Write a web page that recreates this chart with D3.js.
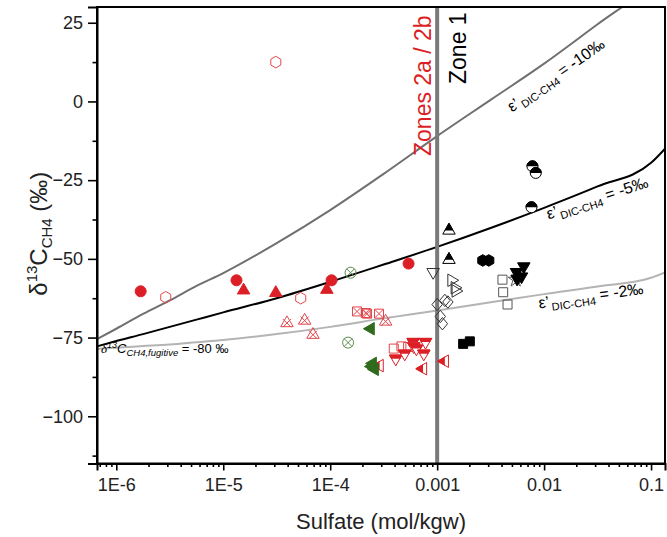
<!DOCTYPE html>
<html>
<head>
<meta charset="utf-8">
<script src="https://cdn.jsdelivr.net/npm/d3@7"></script>
<style>
  body { margin: 0; background: #fff; }
  svg { font-family: Arial, "Liberation Sans", sans-serif; }
</style>
</head>
<body>
<svg id="chart" width="667" height="537"></svg>
<script>
// ---- model curves (sulfate in mol/kgw, d13C-CH4 in permil) ----
const curveSulfate = [6.6e-7, 1e-6, 1.78e-6, 3.16e-6, 5.62e-6, 1e-5, 3.16e-5, 1e-4, 3.16e-4, 1e-3, 3.16e-3, 1e-2, 3.16e-2, 0.1, 0.135];
const eps10 = [-75.5, -72.2, -67.5, -63.2, -58.6, -54.5, -45, -34.5, -23, -11, 0.5, 12, 24.5, 37, 41];
const eps5 = [-77.8, -76.1, -73.9, -71.6, -69.3, -67, -62.5, -57.3, -51.8, -46.2, -40.2, -33.8, -27, -19.5, -15];
const eps2 = [-78.6, -78.2, -77.7, -77.2, -76.5, -75.8, -73.9, -71.6, -68.9, -66.4, -63.8, -61.2, -58.8, -56, -54.3];

// ---- samples, Zones 2a / 2b (red, green) ----
const redCircleSulfate = [1.69e-6, 1.33e-5, 1.03e-4, 5.4e-4];
const redCircleD13C = [-60.3, -56.8, -56.8, -51.5];
const redTriangleSulfate = [1.55e-5, 3.1e-5, 9.3e-5];
const redTriangleD13C = [-60.0, -60.8, -59.8];
const redHexSulfate = [2.9e-6, 5.3e-5, 3.1e-5];
const redHexD13C = [-62.2, -62.5, 12.5];
const redBoxXSulfate = [1.78e-4, 2.15e-4, 2.21e-4, 2.86e-4];
const redBoxXD13C = [-66.7, -67.2, -67.4, -67.4];
const redTriXSulfate = [3.94e-5, 5.77e-5, 6.9e-5, 3.3e-4];
const redTriXD13C = [-70.4, -69.6, -74.1, -69.9];
const redSquareSulfate = [3.93e-4, 4.63e-4, 5.35e-4];
const redSquareD13C = [-78.5, -77.8, -78.0];
const redDownSulfate = [4.1e-4, 4.98e-4, 5.96e-4, 6.05e-4, 6.4e-4, 7.5e-4, 7.78e-4];
const redDownD13C = [-81.7, -80.1, -76.4, -77.8, -78.5, -80.1, -76.4];
const redLeftSulfate = [2.9e-4, 7.38e-4, 1.18e-3];
const redLeftD13C = [-83.9, -84.9, -82.5];
const greenCircXSulfate = [1.55e-4, 1.47e-4];
const greenCircXD13C = [-54.4, -76.6];
const greenLeftSulfate = [2.39e-4, 2.5e-4, 2.61e-4, 2.44e-4];
const greenLeftD13C = [-72.2, -83.2, -85.1, -84.2];

// ---- samples, Zone 1 (black) ----
const blkHalfCircleSulfate = [7.78e-3, 8.36e-3, 7.62e-3];
const blkHalfCircleD13C = [-20.6, -22.7, -33.6];
const blkHalfTriSulfate = [1.29e-3, 1.29e-3];
const blkHalfTriD13C = [-41.0, -50.3];
const blkHexSulfate = [2.67e-3, 3.04e-3];
const blkHexD13C = [-50.5, -50.5];
const blkDownSulfate = [5.52e-3, 6.46e-3, 6.15e-3, 5.59e-3];
const blkDownD13C = [-54.2, -52.4, -55.6, -56.3];
const blkSquareSulfate = [1.75e-3, 2.02e-3];
const blkSquareD13C = [-77.0, -76.2];
const openDownSulfate = [9.17e-4];
const openDownD13C = [-54.2];
const openRightSulfate = [1.36e-3, 1.46e-3, 1.49e-3];
const openRightD13C = [-56.8, -59.2, -60.2];
const openDiamondSulfate = [1.0e-3, 1.18e-3, 1.26e-3, 1.07e-3, 1.12e-3];
const openDiamondD13C = [-64.5, -63.2, -63.7, -68.3, -70.6];
const openSquareSulfate = [4.08e-3, 4.14e-3, 4.55e-3];
const openSquareD13C = [-56.6, -60.6, -64.5];
const openStarSulfate = [5.43e-3];
const openStarD13C = [-56.6];

// ---- axis ticks ----
const xMajor = [1e-6, 1e-5, 1e-4, 1e-3, 1e-2, 1e-1];
const xTickLabels = ['1E-6', '1E-5', '1E-4', '0.001', '0.01', '0.1'];
const yMajor = [-100, -75, -50, -25, 0, 25];
const yMinor = [-112.5, -87.5, -62.5, -37.5, -12.5, 12.5];
const zoneBoundary = 0.001;

const RED = '#dc1f26', RED_OPEN = '#e2474b', GREEN = '#2f6b1c', BLACK = '#000';

const svg = d3.select('#chart');
const x = d3.scaleLog().domain([6.6e-7, 0.135]).range([97, 665]);
const y = d3.scaleLinear().domain([-115, 30]).range([463.5, 7]);

const defs = svg.append('defs');
defs.append('clipPath').attr('id', 'plot-clip').append('rect')
  .attr('x', 97).attr('y', 7).attr('width', 568).attr('height', 456.5);
defs.append('clipPath').attr('id', 'half-top').append('rect')
  .attr('x', -20).attr('y', -20).attr('width', 40).attr('height', 20);
defs.append('clipPath').attr('id', 'half-left').append('rect')
  .attr('x', -20).attr('y', -20).attr('width', 20).attr('height', 40);

// model curves
const plot = svg.append('g').attr('clip-path', 'url(#plot-clip)');
const line = d3.line().x(d => x(d[0])).y(d => y(d[1])).curve(d3.curveMonotoneX);
const curves = [
  {vals: eps2, color: '#b4b4b4'},
  {vals: eps10, color: '#707070'},
  {vals: eps5, color: '#000'}
];
curves.forEach(c => {
  plot.append('path')
    .datum(curveSulfate.map((s, i) => [s, c.vals[i]]))
    .attr('d', line)
    .attr('fill', 'none')
    .attr('stroke', c.color)
    .attr('stroke-width', 2);
});

// zone boundary
plot.append('line')
  .attr('x1', x(zoneBoundary)).attr('x2', x(zoneBoundary))
  .attr('y1', y(30)).attr('y2', y(-115))
  .attr('stroke', '#7a7a7a').attr('stroke-width', 4);

// marker shapes
function poly(pts) { return 'M' + pts.map(p => p[0].toFixed(2) + ',' + p[1].toFixed(2)).join('L') + 'Z'; }
function tri(r, ang) {
  const pts = [];
  for (let k = 0; k < 3; k++) {
    const a = (ang + k * 120) * Math.PI / 180;
    pts.push([r * Math.cos(a), r * Math.sin(a)]);
  }
  return poly(pts);
}
function shapePath(shape) {
  switch (shape) {
    case 'circle': return d3.symbol(d3.symbolCircle, Math.PI * 5.5 * 5.5)();
    case 'up': return tri(7.2, -90);
    case 'down': return tri(7.2, 90);
    case 'left': return tri(7.2, 180);
    case 'right': return tri(7.2, 0);
    case 'square': return poly([[-4.5, -4.5], [4.5, -4.5], [4.5, 4.5], [-4.5, 4.5]]);
    case 'diamond': return poly([[0, -6.2], [5.2, 0], [0, 6.2], [-5.2, 0]]);
    case 'hex': {
      const pts = [];
      for (let k = 0; k < 6; k++) {
        const a = (-90 + k * 60) * Math.PI / 180;
        pts.push([5.8 * Math.cos(a), 5.8 * Math.sin(a)]);
      }
      return poly(pts);
    }
    case 'star': return d3.symbol(d3.symbolStar, 70)();
  }
}

const series = [
  {sx: redHexSulfate, sy: redHexD13C, shape: 'hex', color: RED_OPEN, fill: 'open'},
  {sx: redCircleSulfate, sy: redCircleD13C, shape: 'circle', color: RED, fill: 'full'},
  {sx: redTriangleSulfate, sy: redTriangleD13C, shape: 'up', color: RED, fill: 'full'},
  {sx: redBoxXSulfate, sy: redBoxXD13C, shape: 'square', color: RED_OPEN, fill: 'cross'},
  {sx: redTriXSulfate, sy: redTriXD13C, shape: 'up', color: RED_OPEN, fill: 'cross'},
  {sx: redSquareSulfate, sy: redSquareD13C, shape: 'square', color: RED_OPEN, fill: 'open'},
  {sx: redDownSulfate, sy: redDownD13C, shape: 'down', color: RED, fill: 'top'},
  {sx: redLeftSulfate, sy: redLeftD13C, shape: 'left', color: RED, fill: 'left'},
  {sx: greenCircXSulfate, sy: greenCircXD13C, shape: 'circle', color: '#5a8a4a', fill: 'cross'},
  {sx: greenLeftSulfate, sy: greenLeftD13C, shape: 'left', color: GREEN, fill: 'full'},
  {sx: openDownSulfate, sy: openDownD13C, shape: 'down', color: '#333', fill: 'open'},
  {sx: openRightSulfate, sy: openRightD13C, shape: 'right', color: '#333', fill: 'open'},
  {sx: openDiamondSulfate, sy: openDiamondD13C, shape: 'diamond', color: '#333', fill: 'open'},
  {sx: openSquareSulfate, sy: openSquareD13C, shape: 'square', color: '#555', fill: 'open'},
  {sx: openStarSulfate, sy: openStarD13C, shape: 'star', color: '#555', fill: 'open'},
  {sx: blkHalfCircleSulfate, sy: blkHalfCircleD13C, shape: 'circle', color: BLACK, fill: 'top'},
  {sx: blkHalfTriSulfate, sy: blkHalfTriD13C, shape: 'up', color: BLACK, fill: 'top'},
  {sx: blkHexSulfate, sy: blkHexD13C, shape: 'hex', color: BLACK, fill: 'full'},
  {sx: blkDownSulfate, sy: blkDownD13C, shape: 'down', color: BLACK, fill: 'full'},
  {sx: blkSquareSulfate, sy: blkSquareD13C, shape: 'square', color: BLACK, fill: 'full'}
];

const markers = svg.append('g');
series.forEach(ser => {
  const p = shapePath(ser.shape);
  const pts = ser.sx.map((s, i) => ({s: s, v: ser.sy[i]}));
  const g = markers.selectAll(null).data(pts).enter().append('g')
    .attr('transform', d => `translate(${x(d.s)},${y(d.v)})`);
  if (ser.fill === 'full') {
    g.append('path').attr('d', p).attr('fill', ser.color).attr('stroke', ser.color).attr('stroke-width', 1);
  } else if (ser.fill === 'open' || ser.fill === 'cross') {
    g.append('path').attr('d', p).attr('fill', 'none').attr('stroke', ser.color).attr('stroke-width', 1);
    if (ser.fill === 'cross') {
      const c = 4;
      g.append('path').attr('d', `M${-c},${-c}L${c},${c}M${-c},${c}L${c},${-c}`)
        .attr('stroke', ser.color).attr('stroke-width', 1);
    }
  } else {
    g.append('path').attr('d', p).attr('fill', '#fff').attr('stroke', ser.color).attr('stroke-width', 1);
    g.append('path').attr('d', p).attr('fill', ser.color).attr('stroke', ser.color).attr('stroke-width', 1)
      .attr('clip-path', ser.fill === 'top' ? 'url(#half-top)' : 'url(#half-left)');
  }
});

// axes
svg.append('g').attr('transform', `translate(0,${y(-115)})`)
  .call(d3.axisBottom(x).tickValues(xMajor).tickFormat((d, i) => xTickLabels[i]).tickSize(7).tickPadding(8));
const xMinor = [];
for (let e = -7; e <= -1; e++) {
  for (let k = 2; k <= 9; k++) {
    const v = k * Math.pow(10, e);
    if (v >= x.domain()[0] && v <= x.domain()[1]) xMinor.push(v);
  }
}
svg.append('g').attr('transform', `translate(0,${y(-115)})`)
  .call(d3.axisBottom(x).tickValues(xMinor).tickFormat('').tickSize(3.5))
  .call(g => g.select('.domain').remove());

svg.append('g').attr('transform', `translate(${x.range()[0]},0)`)
  .call(d3.axisLeft(y).tickValues(yMajor).tickSize(9).tickPadding(5));
svg.append('g').attr('transform', `translate(${x.range()[0]},0)`)
  .call(d3.axisLeft(y).tickValues(yMinor).tickFormat('').tickSize(4.5))
  .call(g => g.select('.domain').remove());

svg.selectAll('.tick line').attr('stroke-width', 1.6);
svg.selectAll('.tick text').attr('font-size', 18).attr('fill', '#222').attr('font-family', 'Arial, "Liberation Sans", sans-serif');
svg.selectAll('.domain').attr('stroke-width', 2);

// frame
svg.append('rect')
  .attr('x', x.range()[0]).attr('y', y(30))
  .attr('width', x.range()[1] - x.range()[0]).attr('height', y(-115) - y(30))
  .attr('fill', 'none').attr('stroke', '#000').attr('stroke-width', 2);

// axis titles
svg.append('text')
  .attr('x', (x.range()[0] + x.range()[1]) / 2).attr('y', 529)
  .attr('text-anchor', 'middle').attr('font-size', 22).attr('fill', '#222')
  .text('Sulfate (mol/kgw)');

const yt = svg.append('text')
  .attr('transform', `translate(47,${y(-42)}) rotate(-90)`)
  .attr('text-anchor', 'middle').attr('font-size', 24).attr('fill', '#222');
yt.append('tspan').text('\u03B4');
yt.append('tspan').attr('font-size', 15).attr('dy', -10).text('13');
yt.append('tspan').attr('dy', 10).text('C');
yt.append('tspan').attr('font-size', 15).attr('dy', 5).text('CH4');
yt.append('tspan').attr('dy', -5).text(' (\u2030)');

// zone labels
svg.append('text')
  .attr('transform', `translate(${x(zoneBoundary) - 6},156) rotate(-90)`)
  .attr('font-size', 23).attr('fill', '#dc1f26').text('Zones 2a / 2b');
svg.append('text')
  .attr('transform', `translate(${x(zoneBoundary) + 29},84) rotate(-90)`)
  .attr('font-size', 23).attr('fill', '#000').text('Zone 1');

// curve labels
function epsLabel(sulf, val, angle, txt) {
  const t = svg.append('text')
    .attr('transform', `translate(${x(sulf)},${y(val)}) rotate(${angle})`)
    .attr('font-size', 16).attr('fill', '#000');
  t.append('tspan').text('\u03B5\u2019');
  t.append('tspan').attr('font-size', 11).attr('dy', 4).attr('dx', 2).text('DIC-CH4');
  t.append('tspan').attr('dy', -4).text(' = ' + txt);
}
epsLabel(5.0e-3, -3.5, -35, '-10\u2030');
epsLabel(1.1e-2, -37.5, -18, '-5\u2030');
epsLabel(9.0e-3, -65.8, -8, '-2\u2030');

const fl = svg.append('text')
  .attr('x', 101).attr('y', 353).attr('font-size', 13).attr('fill', '#000');
fl.append('tspan').attr('font-family', '"Liberation Serif", serif').attr('font-style', 'italic').text('\u03B4');
fl.append('tspan').attr('font-size', 9).attr('dy', -5).attr('font-style', 'italic').text('13');
fl.append('tspan').attr('dy', 5).attr('font-style', 'italic').text('C');
fl.append('tspan').attr('font-size', 9.5).attr('dy', 3).attr('font-style', 'italic').text('CH4,fugitive');
fl.append('tspan').attr('dy', -3).text(' = -80 \u2030');
</script>
</body>
</html>
